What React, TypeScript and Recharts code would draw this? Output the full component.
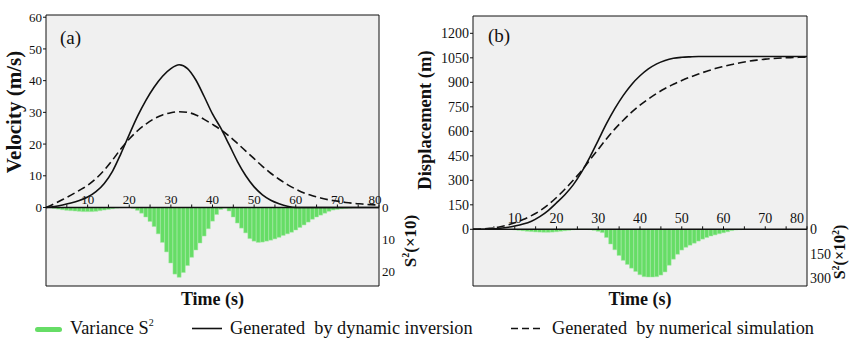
import React from "react";
import { ComposedChart, Line, Bar, Scatter, XAxis, YAxis, ReferenceLine, CartesianGrid } from "recharts";

const FONT = '"Liberation Serif", "Times New Roman", serif';
const INK = "#111";
const GREEN = "#66dd66";
const PLOT_BG = "#f0f0f0";

// time (s) for the two curves, every 2 s
const lineTime = [
  0, 2, 4, 6, 8, 10, 12, 14, 16, 18, 20, 22, 24, 26, 28, 30, 32, 34, 36, 38, 40,
  42, 44, 46, 48, 50, 52, 54, 56, 58, 60, 62, 64, 66, 68, 70, 72, 74, 76, 78, 80,
];

// time (s) for the variance bars, every 1 s
const barTime = [
  0, 1, 2, 3, 4, 5, 6, 7, 8, 9, 10, 11, 12, 13, 14, 15, 16, 17, 18, 19, 20,
  21, 22, 23, 24, 25, 26, 27, 28, 29, 30, 31, 32, 33, 34, 35, 36, 37, 38, 39, 40,
  41, 42, 43, 44, 45, 46, 47, 48, 49, 50, 51, 52, 53, 54, 55, 56, 57, 58, 59, 60,
  61, 62, 63, 64, 65, 66, 67, 68, 69, 70, 71, 72, 73, 74, 75, 76, 77, 78, 79, 80,
];

// (a) velocity, m/s
const velInversion = [
  0, 0.3, 0.8, 1.4, 2.2, 3.3, 5.0, 7.6, 11.5, 17.0, 23.0, 28.8, 33.8, 38.0, 41.4, 43.8, 45.0, 43.8, 40.2, 35.0, 29.5,
  25.0, 19.8, 14.5, 10.0, 6.5, 4.0, 2.3, 1.2, 0.4, 0, 0, 0, 0, 0, 0, 0, 0, 0, 0, 0,
];
const velSimulation = [
  0, 1.2, 2.5, 3.9, 5.4, 7.0, 9.1, 11.8, 15.0, 18.5, 21.6, 24.2, 26.3, 28.0, 29.2, 29.9, 30.2, 30.0, 29.2, 27.8, 26.2,
  24.5, 22.5, 20.2, 17.8, 15.4, 13.0, 10.8, 8.9, 7.2, 5.8, 4.6, 3.7, 3.0, 2.4, 2.0, 1.6, 1.3, 1.1, 0.9, 0.8,
];
// (a) variance S^2 (x10)
const varianceA = [
  0, 0.1, 0.3, 0.5, 0.7, 0.9, 1.0, 1.1, 1.2, 1.3, 1.3, 1.3, 1.2, 1.0, 0.8, 0.6, 0.4, 0.2, 0.1, 0.05, 0,
  0.3, 0.9, 1.8, 3.0, 4.4, 6.0, 8.3, 11.0, 14.0, 17.5, 21.0, 22.0, 20.5, 18.3, 15.7, 13.4, 11.2, 9.0, 6.7, 4.3,
  2.2, 0.6, 0.2, 1.1, 3.0, 4.9, 6.5, 8.0, 9.8, 10.6, 11.0, 10.9, 10.6, 10.3, 9.9, 9.4, 8.8, 8.3, 7.8, 7.1,
  6.3, 5.5, 4.6, 3.7, 3.0, 2.4, 1.8, 1.2, 0.8, 0.6, 0.4, 0.3, 0.2, 0.1, 0.1, 0.05, 0, 0, 0, 0,
];

// (b) displacement, m
const dispInversion = [
  0, 0.5, 2, 5, 11, 20, 32, 50, 78, 115, 162, 212, 272, 350, 442, 545, 648, 740, 820, 887, 940,
  982, 1013, 1034, 1047, 1053, 1056, 1058, 1058, 1058, 1058, 1058, 1058, 1058, 1058, 1058, 1058, 1058, 1058, 1058, 1058,
];
const dispSimulation = [
  0, 2, 6, 13, 24, 40, 60, 84, 113, 150, 195, 245, 300, 358, 425, 490, 555, 615, 668, 717, 760,
  798, 832, 862, 888, 911, 932, 951, 968, 984, 997, 1009, 1020, 1029, 1036, 1042, 1046, 1049, 1051, 1053, 1054,
];
// (b) variance S^2 (x10^2)
const varianceB = [
  0, 0, 0, 0, 0, 0, 0, 0, 0, 0, 3, 6, 9, 12, 14, 16, 17, 18, 18, 17, 15,
  12, 9, 6, 3, 1.5, 0.5, 0.5, 2, 6, 12, 20, 50, 90, 125, 160, 190, 215, 238, 258, 278,
  290, 292, 292, 290, 280, 261, 220, 183, 153, 127, 110, 97, 85, 72, 60, 50, 41, 34, 27, 21,
  15, 8, 4, 2, 1, 0, 0, 0, 0, 0, 0, 0, 0, 0, 0, 0, 0, 0, 0, 0,
];

// ticks
const xTickMarks = [5, 10, 15, 20, 25, 30, 35, 40, 45, 50, 55, 60, 65, 70, 75, 80];
const xTickLabels = [10, 20, 30, 40, 50, 60, 70, 80];
const velTicks = [0, 10, 20, 30, 40, 50, 60];
const velMinor = [-20, -15, -10, -5, 5, 15, 25, 35, 45, 55];
const s2TicksA = [0, 10, 20];
const s2MinorA = [5, 10, 15, 20];
const dispTicks = [0, 150, 300, 450, 600, 750, 900, 1050, 1200];
const dispMinor = [-300, -225, -150, -75, 75, 225, 375, 525, 675, 825, 975, 1125, 1275];
const s2TicksB = [0, 150, 300];
const s2MinorB = [75, 150, 225, 300];

const rows = (xs: number[], ys: number[], key: string) => xs.map((t, i) => ({ t, [key]: ys[i] }));
const tickRows = xTickMarks.map((t) => ({ t, z: 0 }));

type PanelCfg = {
  left: number;
  width: number;
  margin: { top: number; right: number; bottom: number; left: number };
  yWidth: number;
  yDomain: [number, number];
  yTicks: number[];
  yMinor: number[];
  sTicks: number[];
  sMinor: number[];
  inv: { t: number; v: number }[];
  sim: { t: number; v: number }[];
  bars: { t: number; s: number }[];
  fontSize: number;
  lift: number;
  lastDx: number;
};

const makeTickShape = (fontSize: number, lift: number, lastDx: number) => (props: any) => {
  const { cx, cy, payload } = props;
  const t = payload.t;
  return (
    <g>
      <line x1={cx} x2={cx} y1={cy} y2={cy - 3} stroke={INK} strokeWidth={1} />
      {xTickLabels.includes(t) && (
        <text
          x={cx + (t === 80 ? lastDx : 0)}
          y={cy - lift}
          textAnchor="middle"
          fontSize={fontSize}
          fontFamily={FONT}
          fill={INK}
        >
          {t}
        </text>
      )}
    </g>
  );
};

const Panel = ({ cfg }: { cfg: PanelCfg }) => {
  const sDomain: [number, number] = [-cfg.yDomain[1], -cfg.yDomain[0]];
  const tickFont = { fill: INK, fontSize: cfg.fontSize, fontFamily: FONT };
  return (
    <div style={{ position: "absolute", left: cfg.left, top: 0 }}>
      <ComposedChart width={cfg.width} height={338} data={cfg.bars} margin={cfg.margin}>
        <CartesianGrid xAxisId="b" yAxisId="y" fill={PLOT_BG} stroke="none" horizontal={false} vertical={false} />
        <XAxis xAxisId="b" dataKey="t" type="number" domain={[0, 80]} height={1} tick={false} tickLine={false} axisLine={{ stroke: INK }} />
        <XAxis xAxisId="top" orientation="top" dataKey="t" type="number" domain={[0, 80]} height={1} tick={false} tickLine={false} axisLine={{ stroke: INK }} />
        <YAxis
          yAxisId="y"
          type="number"
          domain={cfg.yDomain}
          ticks={cfg.yTicks}
          interval={0}
          width={cfg.yWidth}
          tickSize={3}
          tickMargin={1}
          axisLine={{ stroke: INK }}
          tickLine={{ stroke: INK }}
          tick={tickFont}
        />
        <YAxis yAxisId="ym" type="number" mirror domain={cfg.yDomain} ticks={cfg.yMinor} interval={0} width={0} tickSize={3} axisLine={false} tickLine={{ stroke: INK }} tickFormatter={() => ""} />
        <YAxis
          yAxisId="s"
          type="number"
          orientation="right"
          reversed
          domain={sDomain}
          ticks={cfg.sTicks}
          interval={0}
          width={30}
          tickSize={2}
          tickMargin={1}
          tickLine={false}
          axisLine={{ stroke: INK }}
          tick={tickFont}
        />
        <YAxis yAxisId="sm" type="number" orientation="right" mirror reversed domain={sDomain} ticks={cfg.sMinor} interval={0} width={0} tickSize={3} axisLine={false} tickLine={{ stroke: INK }} tickFormatter={() => ""} />
        <Bar xAxisId="b" yAxisId="s" dataKey="s" fill={GREEN} stroke="#a4e9a4" strokeWidth={0.5} barSize={4} isAnimationActive={false} />
        <ReferenceLine xAxisId="b" yAxisId="y" y={0} stroke={INK} strokeWidth={1.4} />
        <Line xAxisId="b" yAxisId="y" data={cfg.inv} dataKey="v" type="monotone" stroke={INK} strokeWidth={1.6} dot={false} isAnimationActive={false} />
        <Line xAxisId="b" yAxisId="y" data={cfg.sim} dataKey="v" type="monotone" stroke={INK} strokeWidth={1.6} strokeDasharray="8 4" dot={false} isAnimationActive={false} />
        <Scatter xAxisId="b" yAxisId="y" data={tickRows} dataKey="z" shape={makeTickShape(cfg.fontSize, cfg.lift, cfg.lastDx)} isAnimationActive={false} />
      </ComposedChart>
    </div>
  );
};

const panelA: PanelCfg = {
  left: 0,
  width: 420,
  margin: { top: 14, right: 11, bottom: 51, left: 16 },
  yWidth: 30,
  yDomain: [-24.75, 60.7],
  yTicks: velTicks,
  yMinor: velMinor,
  sTicks: s2TicksA,
  sMinor: s2MinorA,
  inv: rows(lineTime, velInversion, "v") as any,
  sim: rows(lineTime, velSimulation, "v") as any,
  bars: rows(barTime, varianceA, "s") as any,
  fontSize: 13,
  lift: 3.5,
  lastDx: -4,
};

const panelB: PanelCfg = {
  left: 420,
  width: 430,
  margin: { top: 15, right: 13, bottom: 51, left: 15 },
  yWidth: 38,
  yDomain: [-347, 1306],
  yTicks: dispTicks,
  yMinor: dispMinor,
  sTicks: s2TicksB,
  sMinor: s2MinorB,
  inv: rows(lineTime, dispInversion, "v") as any,
  sim: rows(lineTime, dispSimulation, "v") as any,
  bars: rows(barTime, varianceB, "s") as any,
  fontSize: 14,
  lift: 6,
  lastDx: -10,
};

const boldTitle = { fontFamily: FONT, fontWeight: 700, fill: INK } as const;
const legendText = { fontFamily: FONT, fontSize: 18.3, fill: INK, style: { whiteSpace: "pre" as const } };

export default function App() {
  return (
    <div style={{ position: "absolute", left: 0, top: 0, width: 850, height: 338, background: "#fff", overflow: "hidden" }}>
      <Panel cfg={panelA} />
      <Panel cfg={panelB} />
      <svg width={850} height={338} style={{ position: "absolute", left: 0, top: 0, pointerEvents: "none" }}>
        <text x={60} y={44} fontFamily={FONT} fontSize={19} fill={INK}>(a)</text>
        <text x={488} y={42} fontFamily={FONT} fontSize={19} fill={INK}>(b)</text>

        <text {...boldTitle} fontSize={21} x={21} y={112} textAnchor="middle" transform="rotate(-90 21 112)">Velocity (m/s)</text>
        <text {...boldTitle} fontSize={18.5} x={431} y={120} textAnchor="middle" transform="rotate(-90 431 120)">Displacement (m)</text>

        <text {...boldTitle} fontSize={17} x={416} y={241} textAnchor="middle" transform="rotate(-90 416 241)">
          S<tspan fontSize={10} dy={-7}>2</tspan><tspan dy={7}>(×10)</tspan>
        </text>
        <text {...boldTitle} fontSize={16} x={845} y={252} textAnchor="middle" transform="rotate(-90 845 252)">
          S<tspan fontSize={10} dy={-6}>2</tspan><tspan dy={6}>(×10</tspan><tspan fontSize={10} dy={-6}>2</tspan><tspan dy={6}>)</tspan>
        </text>

        <text {...boldTitle} fontSize={18} x={212.5} y={305} textAnchor="middle">Time (s)</text>
        <text {...boldTitle} fontSize={18} x={640} y={305} textAnchor="middle">Time (s)</text>

        <rect x={35} y={327} width={27} height={5} rx={2.5} fill={GREEN} />
        <text {...legendText} x={70} y={334}>
          Variance S<tspan fontSize={10} dy={-8}>2</tspan>
        </text>
        <line x1={192} x2={222} y1={328.5} y2={328.5} stroke={INK} strokeWidth={1.6} />
        <text {...legendText} x={230} y={334}>Generated  by dynamic inversion</text>
        <line x1={511} x2={542} y1={328.5} y2={328.5} stroke={INK} strokeWidth={1.6} strokeDasharray="7 4" />
        <text {...legendText} x={552} y={334}>Generated  by numerical simulation</text>
      </svg>
    </div>
  );
}
